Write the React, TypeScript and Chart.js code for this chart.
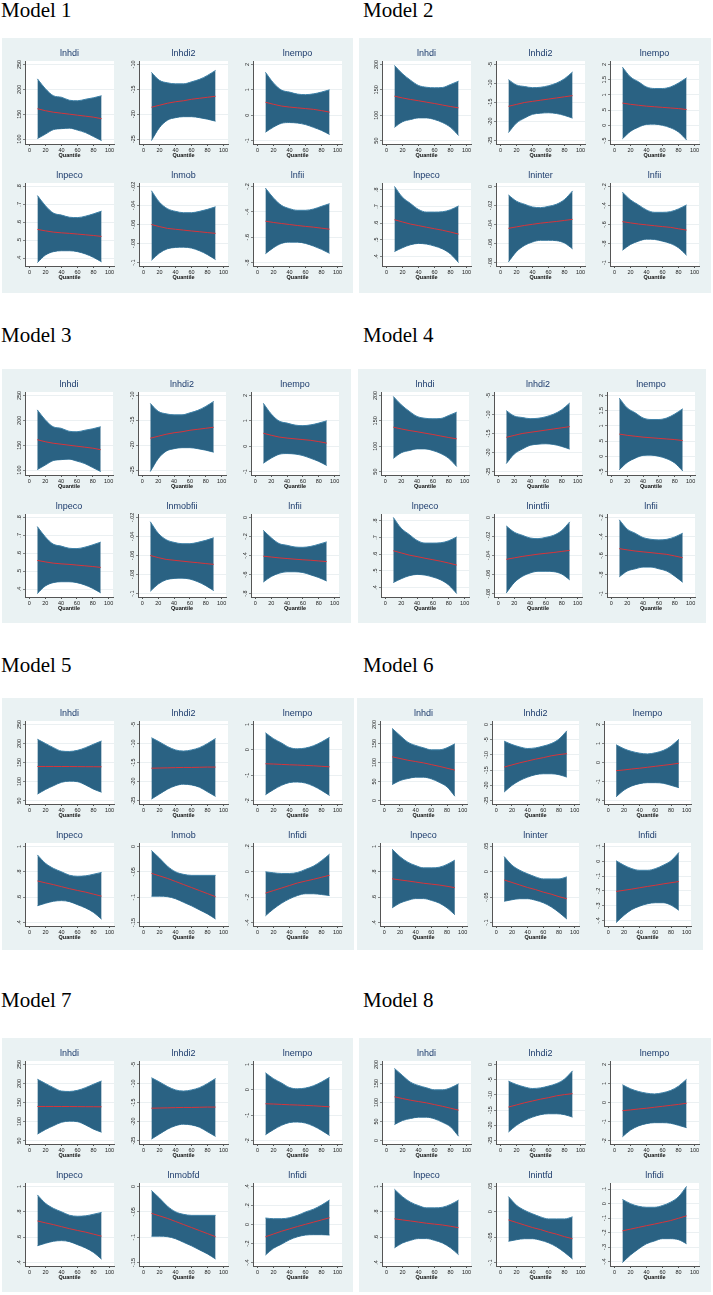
import React, { useEffect, useRef } from "react";
import { Chart, registerables } from "chart.js";

Chart.register(...registerables);

// ---------- data ----------
const QUANTILES = [10, 20, 30, 40, 50, 60, 70, 80, 90];
const X_TICKS = [0, 20, 40, 60, 80, 100];
const MODEL_NAMES = ["Model 1", "Model 2", "Model 3", "Model 4", "Model 5", "Model 6", "Model 7", "Model 8"];

// lnhdi (Models 1 & 3)
const lnhdiA_hi = [221, 201, 187, 184, 178, 177, 180, 183, 187];
const lnhdiA_lo = [101, 110, 119, 121, 122, 118, 113, 105, 97];
const lnhdiA_est = [161, 157, 154, 152, 150, 148, 146, 144, 141];
const lnhdiA_ticks = ["100", "150", "200", "250"];
// lnhdi2 (Models 1 & 3)
const lnhdi2A_hi = [-11.6, -13.2, -13.7, -13.9, -13.9, -13.5, -13.0, -12.2, -11.2];
const lnhdi2A_lo = [-25.3, -22.7, -21.2, -20.7, -20.5, -20.5, -20.7, -21.0, -21.4];
const lnhdi2A_est = [-18.6, -18.2, -17.8, -17.5, -17.3, -17.0, -16.8, -16.6, -16.4];
const lnhdi2A_ticks = ["-25", "-20", "-15", "-10"];
// lnempo (Models 1 & 3)
const lnempoA_hi = [1.69, 1.27, 0.99, 0.91, 0.83, 0.81, 0.84, 0.91, 1.0];
const lnempoA_lo = [-0.67, -0.47, -0.32, -0.29, -0.31, -0.37, -0.48, -0.6, -0.76];
const lnempoA_est = [0.51, 0.43, 0.36, 0.32, 0.29, 0.26, 0.23, 0.18, 0.12];
const lnempoA_ticks = ["-1", "0", "1", "2"];
// lnpeco (Models 1 & 3)
const lnpecoA_hi = [0.749, 0.692, 0.651, 0.64, 0.628, 0.626, 0.634, 0.647, 0.662];
const lnpecoA_lo = [0.375, 0.417, 0.436, 0.441, 0.441, 0.436, 0.423, 0.404, 0.379];
const lnpecoA_est = [0.56, 0.552, 0.545, 0.541, 0.538, 0.534, 0.53, 0.526, 0.521];
const lnpecoA_ticks = [".4", ".5", ".6", ".7", ".8"];
// lnmob (Model 1) / lnmobfii (Model 3)
const lnmobA_hi = [-0.0245, -0.0366, -0.0434, -0.0462, -0.0476, -0.0476, -0.0462, -0.0441, -0.0414];
const lnmobA_lo = [-0.0976, -0.09, -0.0855, -0.0841, -0.0838, -0.0848, -0.0876, -0.0917, -0.0969];
const lnmobA_est = [-0.06, -0.0622, -0.0641, -0.065, -0.0659, -0.0668, -0.0676, -0.0685, -0.0693];
const lnmobA_ticks = ["-.1", "-.08", "-.06", "-.04", "-.02"];
// lnfii (Model 1)
const lnfii1_hi = [-0.213, -0.291, -0.349, -0.375, -0.388, -0.388, -0.378, -0.357, -0.336];
const lnfii1_lo = [-0.73, -0.683, -0.649, -0.639, -0.639, -0.649, -0.67, -0.696, -0.727];
const lnfii1_est = [-0.474, -0.484, -0.492, -0.5, -0.508, -0.515, -0.521, -0.529, -0.537];
const lnfii1_ticks = ["-.8", "-.6", "-.4", "-.2"];

// lnhdi (Models 2 & 4)
const lnhdiB_hi = [198, 181.6, 169, 158.6, 155, 154, 154.6, 160.5, 167];
const lnhdiB_lo = [76, 87, 91.4, 94.7, 94.7, 91.4, 85.5, 76, 60];
const lnhdiB_est = [137.5, 134, 131, 128.5, 125.7, 123, 120, 117, 114.5];
const lnhdiB_ticks = ["50", "100", "150", "200"];
// lnhdi2 (Models 2 & 4)
const lnhdi2B_hi = [-9.0, -10.4, -10.8, -11.1, -11.0, -10.6, -9.9, -8.75, -7.0];
const lnhdi2B_lo = [-22.9, -20.4, -19.1, -18.1, -17.8, -17.7, -17.9, -18.4, -19.1];
const lnhdi2B_est = [-16, -15.5, -15, -14.7, -14.4, -14.1, -13.8, -13.5, -13.2];
const lnhdi2B_ticks = ["-25", "-20", "-15", "-10", "-5"];
// lnempo (Models 2 & 4)
const lnempoB_hi = [1.91, 1.59, 1.43, 1.26, 1.21, 1.21, 1.26, 1.39, 1.56];
const lnempoB_lo = [-0.44, -0.2, -0.06, 0.03, 0.04, 0.0, -0.08, -0.22, -0.48];
const lnempoB_est = [0.73, 0.69, 0.66, 0.63, 0.61, 0.59, 0.57, 0.55, 0.52];
const lnempoB_ticks = ["-.5", "0", ".5", "1", "1.5", "2"];
// lnpeco (Models 2 & 4)
const lnpecoB_hi = [0.82, 0.755, 0.718, 0.682, 0.666, 0.666, 0.668, 0.68, 0.703];
const lnpecoB_lo = [0.429, 0.452, 0.47, 0.478, 0.474, 0.462, 0.445, 0.414, 0.363];
const lnpecoB_est = [0.62, 0.607, 0.594, 0.585, 0.575, 0.566, 0.557, 0.546, 0.534];
const lnpecoB_ticks = [".4", ".5", ".6", ".7", ".8"];
// lninter (Model 2) / lnintfii (Model 4)
const lninterB_hi = [-0.009, -0.0155, -0.0187, -0.0216, -0.0223, -0.0209, -0.0187, -0.0137, -0.0047];
const lninterB_lo = [-0.0793, -0.0685, -0.062, -0.0584, -0.0566, -0.0566, -0.057, -0.0595, -0.0656];
const lninterB_est = [-0.044, -0.0425, -0.041, -0.0398, -0.0386, -0.0377, -0.0368, -0.0357, -0.0346];
const lninterB_ticks = ["-.08", "-.06", "-.04", "-.02", "0"];
// lnfii (Model 2)
const lnfii2_hi = [-0.26, -0.341, -0.394, -0.447, -0.472, -0.472, -0.465, -0.436, -0.394];
const lnfii2_lo = [-0.87, -0.81, -0.775, -0.754, -0.757, -0.775, -0.8, -0.845, -0.923];
const lnfii2_est = [-0.57, -0.583, -0.595, -0.604, -0.613, -0.622, -0.63, -0.645, -0.659];
const lnfii2_ticks = ["-1", "-.8", "-.6", "-.4", "-.2"];
// lnfii (Model 3)
const lnfii3_hi = [-0.136, -0.214, -0.275, -0.293, -0.311, -0.314, -0.304, -0.282, -0.257];
const lnfii3_lo = [-0.679, -0.621, -0.586, -0.571, -0.571, -0.579, -0.604, -0.632, -0.668];
const lnfii3_est = [-0.407, -0.416, -0.425, -0.432, -0.439, -0.445, -0.45, -0.457, -0.464];
const lnfii3_ticks = ["-.8", "-.6", "-.4", "-.2", "0"];
// lnfii (Model 4)
const lnfii4_hi = [-0.225, -0.323, -0.366, -0.412, -0.43, -0.436, -0.43, -0.405, -0.366];
const lnfii4_lo = [-0.824, -0.764, -0.74, -0.722, -0.722, -0.74, -0.764, -0.817, -0.881];
const lnfii4_est = [-0.528, -0.541, -0.553, -0.562, -0.57, -0.579, -0.588, -0.605, -0.623];
const lnfii4_ticks = ["-1", "-.8", "-.6", "-.4", "-.2"];

// lnhdi (Models 5 & 7)
const lnhdiC_hi = [211, 200, 189, 180, 179, 182, 189, 198, 206.5];
const lnhdiC_lo = [67, 79, 89, 98, 101, 99.6, 91, 80, 72];
const lnhdiC_est = [139.6, 139.6, 139.6, 139.5, 139.4, 139.2, 139, 138.9, 138.7];
const lnhdiC_ticks = ["50", "100", "150", "200", "250"];
// lnhdi2 (Models 5 & 7)
const lnhdi2C_hi = [-8.5, -9.6, -10.8, -11.7, -12.0, -11.7, -11.1, -10.0, -8.7];
const lnhdi2C_lo = [-24.6, -23.3, -22.0, -21.1, -20.7, -20.9, -21.5, -22.7, -23.9];
const lnhdi2C_est = [-16.5, -16.45, -16.4, -16.35, -16.3, -16.3, -16.25, -16.2, -16.2];
const lnhdi2C_ticks = ["-25", "-20", "-15", "-10", "-5"];
// lnempo (Models 5 & 7)
const lnempoC_hi = [0.67, 0.44, 0.27, 0.09, 0.04, 0.07, 0.16, 0.31, 0.49];
const lnempoC_lo = [-1.77, -1.57, -1.4, -1.29, -1.27, -1.31, -1.43, -1.6, -1.8];
const lnempoC_est = [-0.55, -0.56, -0.575, -0.59, -0.6, -0.615, -0.63, -0.65, -0.67];
const lnempoC_ticks = ["-2", "-1", "0", "1"];
// lnpeco (Models 5 & 7)
const lnpecoC_hi = [0.933, 0.867, 0.827, 0.8, 0.773, 0.765, 0.768, 0.781, 0.795];
const lnpecoC_lo = [0.533, 0.552, 0.568, 0.573, 0.565, 0.541, 0.515, 0.48, 0.427];
const lnpecoC_est = [0.728, 0.713, 0.699, 0.683, 0.667, 0.653, 0.64, 0.624, 0.608];
const lnpecoC_ticks = [".4", ".6", ".8", "1"];
// lnmob (Model 5) / lnmobfd (Model 7)
const lnmobC_hi = [-0.008, -0.023, -0.039, -0.05, -0.055, -0.057, -0.057, -0.057, -0.057];
const lnmobC_lo = [-0.098, -0.098, -0.099, -0.103, -0.11, -0.117, -0.125, -0.133, -0.143];
const lnmobC_est = [-0.053, -0.058, -0.063, -0.069, -0.075, -0.081, -0.087, -0.093, -0.099];
const lnmobC_ticks = ["-.15", "-.1", "-.05", "0"];
// lnfidi (Model 5)
const lnfidi5_hi = [0, -0.008, -0.013, -0.013, -0.005, 0.019, 0.045, 0.088, 0.139];
const lnfidi5_lo = [-0.347, -0.293, -0.248, -0.213, -0.187, -0.173, -0.173, -0.179, -0.187];
const lnfidi5_est = [-0.168, -0.148, -0.128, -0.108, -0.088, -0.073, -0.059, -0.043, -0.027];
const lnfidi5_ticks = ["-.4", "-.2", "0", ".2"];

// lnhdi (Models 6 & 8)
const lnhdiD_hi = [189.5, 171, 153.5, 144.7, 138.6, 133.3, 133.3, 138.6, 149];
const lnhdiD_lo = [42, 52.6, 57.9, 61.4, 61.4, 57, 48, 36, 11.4];
const lnhdiD_est = [115, 110.5, 106, 102.5, 99, 94.5, 90, 85, 80];
const lnhdiD_ticks = ["0", "50", "100", "150", "200"];
// lnhdi2 (Models 6 & 8)
const lnhdi2D_hi = [-5.5, -6.6, -7.4, -7.9, -7.7, -7.1, -6.3, -4.8, -2.1];
const lnhdi2D_lo = [-22.2, -20.0, -18.4, -17.3, -16.5, -16.2, -16.2, -16.5, -17.3];
const lnhdi2D_est = [-14, -13.3, -12.6, -12.0, -11.4, -10.9, -10.3, -9.9, -9.6];
const lnhdi2D_ticks = ["-25", "-20", "-15", "-10", "-5", "0"];
// lnempo (Models 6 & 8)
const lnempoD_hi = [0.93, 0.72, 0.58, 0.49, 0.45, 0.51, 0.63, 0.86, 1.22];
const lnempoD_lo = [-1.8, -1.45, -1.23, -1.11, -1.06, -1.06, -1.09, -1.2, -1.32];
const lnempoD_est = [-0.43, -0.39, -0.34, -0.3, -0.25, -0.2, -0.15, -0.1, -0.04];
const lnempoD_ticks = ["-2", "-1", "0", "1", "2"];
// lnpeco (Models 6 & 8)
const lnpecoD_hi = [0.978, 0.919, 0.876, 0.849, 0.831, 0.831, 0.836, 0.858, 0.892];
const lnpecoD_lo = [0.516, 0.554, 0.575, 0.589, 0.589, 0.575, 0.554, 0.516, 0.462];
const lnpecoD_est = [0.745, 0.736, 0.728, 0.719, 0.71, 0.703, 0.696, 0.686, 0.675];
const lnpecoD_ticks = [".4", ".6", ".8", "1"];
// lninter (Model 6) / lnintfd (Model 8)
const lninterD_hi = [0.03, 0.013, 0.003, -0.004, -0.01, -0.014, -0.014, -0.014, -0.01];
const lninterD_lo = [-0.058, -0.055, -0.053, -0.053, -0.056, -0.061, -0.069, -0.08, -0.093];
const lninterD_est = [-0.016, -0.021, -0.026, -0.031, -0.035, -0.04, -0.044, -0.049, -0.053];
const lninterD_ticks = ["-.1", "-.05", "0", ".05"];
// lnfidi (Model 6)
const lnfidi6_hi = [0.003, -0.027, -0.05, -0.061, -0.061, -0.05, -0.027, 0.003, 0.059];
const lnfidi6_lo = [-0.414, -0.365, -0.326, -0.303, -0.287, -0.28, -0.28, -0.296, -0.331];
const lnfidi6_est = [-0.204, -0.196, -0.188, -0.179, -0.17, -0.162, -0.153, -0.145, -0.137];
const lnfidi6_ticks = ["-.4", "-.3", "-.2", "-.1", "0", ".1"];
// lnfidi (Model 7)
const lnfidi7_hi = [0.068, 0.061, 0.061, 0.071, 0.096, 0.132, 0.161, 0.204, 0.257];
const lnfidi7_lo = [-0.321, -0.25, -0.207, -0.161, -0.129, -0.111, -0.107, -0.107, -0.111];
const lnfidi7_est = [-0.129, -0.1, -0.071, -0.046, -0.021, 0.002, 0.025, 0.048, 0.071];
const lnfidi7_ticks = ["-.4", "-.2", "0", ".2", ".4"];
// lnfidi (Model 8)
const lnfidi8_hi = [0.029, 0, -0.018, -0.025, -0.025, -0.013, 0.01, 0.048, 0.119];
const lnfidi8_lo = [-0.407, -0.355, -0.313, -0.277, -0.258, -0.242, -0.242, -0.249, -0.277];
const lnfidi8_est = [-0.188, -0.176, -0.164, -0.152, -0.141, -0.129, -0.117, -0.101, -0.084];
const lnfidi8_ticks = ["-.4", "-.3", "-.2", "-.1", "0", ".1"];

type Spec = { title: string; hi: number[]; lo: number[]; est: number[]; ticks: string[] };
const sp = (title: string, hi: number[], lo: number[], est: number[], ticks: string[]): Spec => ({ title, hi, lo, est, ticks });

const PANEL_A = [
  sp("lnhdi", lnhdiA_hi, lnhdiA_lo, lnhdiA_est, lnhdiA_ticks),
  sp("lnhdi2", lnhdi2A_hi, lnhdi2A_lo, lnhdi2A_est, lnhdi2A_ticks),
  sp("lnempo", lnempoA_hi, lnempoA_lo, lnempoA_est, lnempoA_ticks),
  sp("lnpeco", lnpecoA_hi, lnpecoA_lo, lnpecoA_est, lnpecoA_ticks),
];
const PANEL_B = [
  sp("lnhdi", lnhdiB_hi, lnhdiB_lo, lnhdiB_est, lnhdiB_ticks),
  sp("lnhdi2", lnhdi2B_hi, lnhdi2B_lo, lnhdi2B_est, lnhdi2B_ticks),
  sp("lnempo", lnempoB_hi, lnempoB_lo, lnempoB_est, lnempoB_ticks),
  sp("lnpeco", lnpecoB_hi, lnpecoB_lo, lnpecoB_est, lnpecoB_ticks),
];
const PANEL_C = [
  sp("lnhdi", lnhdiC_hi, lnhdiC_lo, lnhdiC_est, lnhdiC_ticks),
  sp("lnhdi2", lnhdi2C_hi, lnhdi2C_lo, lnhdi2C_est, lnhdi2C_ticks),
  sp("lnempo", lnempoC_hi, lnempoC_lo, lnempoC_est, lnempoC_ticks),
  sp("lnpeco", lnpecoC_hi, lnpecoC_lo, lnpecoC_est, lnpecoC_ticks),
];
const PANEL_D = [
  sp("lnhdi", lnhdiD_hi, lnhdiD_lo, lnhdiD_est, lnhdiD_ticks),
  sp("lnhdi2", lnhdi2D_hi, lnhdi2D_lo, lnhdi2D_est, lnhdi2D_ticks),
  sp("lnempo", lnempoD_hi, lnempoD_lo, lnempoD_est, lnempoD_ticks),
  sp("lnpeco", lnpecoD_hi, lnpecoD_lo, lnpecoD_est, lnpecoD_ticks),
];

const MODEL_PANELS: Spec[][] = [
  [...PANEL_A, sp("lnmob", lnmobA_hi, lnmobA_lo, lnmobA_est, lnmobA_ticks), sp("lnfii", lnfii1_hi, lnfii1_lo, lnfii1_est, lnfii1_ticks)],
  [...PANEL_B, sp("lninter", lninterB_hi, lninterB_lo, lninterB_est, lninterB_ticks), sp("lnfii", lnfii2_hi, lnfii2_lo, lnfii2_est, lnfii2_ticks)],
  [...PANEL_A, sp("lnmobfii", lnmobA_hi, lnmobA_lo, lnmobA_est, lnmobA_ticks), sp("lnfii", lnfii3_hi, lnfii3_lo, lnfii3_est, lnfii3_ticks)],
  [...PANEL_B, sp("lnintfii", lninterB_hi, lninterB_lo, lninterB_est, lninterB_ticks), sp("lnfii", lnfii4_hi, lnfii4_lo, lnfii4_est, lnfii4_ticks)],
  [...PANEL_C, sp("lnmob", lnmobC_hi, lnmobC_lo, lnmobC_est, lnmobC_ticks), sp("lnfidi", lnfidi5_hi, lnfidi5_lo, lnfidi5_est, lnfidi5_ticks)],
  [...PANEL_D, sp("lninter", lninterD_hi, lninterD_lo, lninterD_est, lninterD_ticks), sp("lnfidi", lnfidi6_hi, lnfidi6_lo, lnfidi6_est, lnfidi6_ticks)],
  [...PANEL_C, sp("lnmobfd", lnmobC_hi, lnmobC_lo, lnmobC_est, lnmobC_ticks), sp("lnfidi", lnfidi7_hi, lnfidi7_lo, lnfidi7_est, lnfidi7_ticks)],
  [...PANEL_D, sp("lnintfd", lninterD_hi, lninterD_lo, lninterD_est, lninterD_ticks), sp("lnfidi", lnfidi8_hi, lnfidi8_lo, lnfidi8_est, lnfidi8_ticks)],
];

// ---------- layout / style ----------
const BOXES = [
  [2, 38, 351, 255], [359, 38, 352, 255],
  [2, 369, 349, 254], [358, 369, 348, 254],
  [2, 698, 352, 252], [357, 698, 346, 252],
  [2, 1038, 351, 254], [359, 1038, 352, 254],
];
const HEAD_POS = [[1, 0], [363, 0], [1, 325], [363, 325], [1, 655], [363, 655], [1, 990], [363, 990]];
const CELL_H = 122;
const BOX_BG = "#eaf2f3";
const BAND = "#2a6283";
const EDGE = "#3f82a8";
const RED = "#d8343a";
const TITLE_COLOR = "#1c3b6c";
const SANS = '"Liberation Sans", Arial, sans-serif';

function Panel({ spec, left, top, width, height }: { spec: Spec; left: number; top: number; width: number; height: number }) {
  const ref = useRef<HTMLCanvasElement>(null);
  useEffect(() => {
    const yVals = spec.ticks.map((t) => parseFloat(t));
    const dMin = Math.min(...spec.lo, ...yVals);
    const dMax = Math.max(...spec.hi, ...yVals);
    const pad = (dMax - dMin) * 0.045;
    const pts = (arr: number[]) => QUANTILES.map((q, i) => ({ x: q, y: arr[i] }));
    const deco = {
      id: "deco",
      beforeDraw(c: any) {
        const a = c.chartArea;
        const ctx = c.ctx;
        ctx.save();
        ctx.fillStyle = "#ffffff";
        ctx.fillRect(a.left, a.top, a.right - a.left, a.bottom - a.top);
        ctx.restore();
      },
      afterDraw(c: any) {
        const a = c.chartArea;
        const ctx = c.ctx;
        const s = c.scales.y;
        ctx.save();
        ctx.fillStyle = TITLE_COLOR;
        ctx.font = `9px ${SANS}`;
        ctx.textAlign = "center";
        ctx.textBaseline = "middle";
        ctx.fillText(spec.title, (a.left + a.right) / 2, 8.5);
        ctx.fillStyle = "#222";
        ctx.font = `5.5px ${SANS}`;
        spec.ticks.forEach((t) => {
          const y = s.getPixelForValue(parseFloat(t));
          ctx.save();
          ctx.translate(a.left - 5.5, y);
          ctx.rotate(-Math.PI / 2);
          ctx.fillText(t, 0, 0);
          ctx.restore();
        });
        ctx.restore();
      },
    };
    const chart = new Chart(ref.current as HTMLCanvasElement, {
      type: "line",
      data: {
        datasets: [
          { data: pts(spec.est), fill: false, borderColor: RED, borderWidth: 1, pointRadius: 0, tension: 0 },
          { data: pts(spec.hi), fill: "+1", backgroundColor: BAND, borderColor: EDGE, borderWidth: 1, pointRadius: 0, cubicInterpolationMode: "monotone" },
          { data: pts(spec.lo), fill: false, borderColor: EDGE, borderWidth: 1, pointRadius: 0, cubicInterpolationMode: "monotone" },
        ],
      } as any,
      options: {
        responsive: false,
        animation: false,
        devicePixelRatio: 1,
        layout: { padding: { left: 0, right: 8, top: 16, bottom: 8 } },
        plugins: { legend: { display: false }, tooltip: { enabled: false }, title: { display: false } },
        scales: {
          x: {
            type: "linear",
            min: -5.5,
            max: 105.5,
            afterBuildTicks: (sc: any) => { sc.ticks = X_TICKS.map((v) => ({ value: v })); },
            afterFit: (sc: any) => { sc.height = 15; },
            ticks: { font: { size: 5.5, family: SANS }, color: "#222", padding: 1, maxRotation: 0, minRotation: 0, autoSkip: false },
            grid: { drawOnChartArea: false, tickLength: 2, tickColor: "#555" },
            border: { color: "#555", width: 1 },
            title: { display: true, text: "Quantile", font: { size: 5.5, weight: "bold", family: SANS }, color: "#111", padding: 0 },
          },
          y: {
            type: "linear",
            min: dMin - pad,
            max: dMax + pad,
            afterBuildTicks: (sc: any) => { sc.ticks = yVals.map((v) => ({ value: v })); },
            afterFit: (sc: any) => { sc.width = 17; },
            ticks: { display: false },
            grid: { color: "#e2eaed", lineWidth: 0.7, tickLength: 2, tickColor: "#555" },
            border: { color: "#555", width: 1 },
          },
        },
      } as any,
      plugins: [deco],
    });
    return () => chart.destroy();
  }, []);
  return <canvas ref={ref} width={width} height={height} style={{ position: "absolute", left, top, width, height }} />;
}

export default function App() {
  return (
    <div style={{ position: "absolute", left: 0, top: 0, width: 713, height: 1295, background: "#fff", overflow: "hidden" }}>
      {MODEL_NAMES.map((name, m) => {
        const [bx, by, bw, bh] = BOXES[m];
        const cw = Math.round((bw - 9) / 3);
        return (
          <React.Fragment key={name}>
            <div style={{ position: "absolute", left: HEAD_POS[m][0], top: HEAD_POS[m][1], fontFamily: '"Liberation Serif", "Times New Roman", serif', fontSize: 21, lineHeight: "21px", color: "#000", whiteSpace: "nowrap" }}>{name}</div>
            <div style={{ position: "absolute", left: bx, top: by, width: bw, height: bh, background: BOX_BG }} />
            {MODEL_PANELS[m].map((spec, i) => (
              <Panel key={i} spec={spec} left={bx + 6 + (i % 3) * cw} top={by + 7 + Math.floor(i / 3) * CELL_H} width={cw} height={CELL_H} />
            ))}
          </React.Fragment>
        );
      })}
    </div>
  );
}
